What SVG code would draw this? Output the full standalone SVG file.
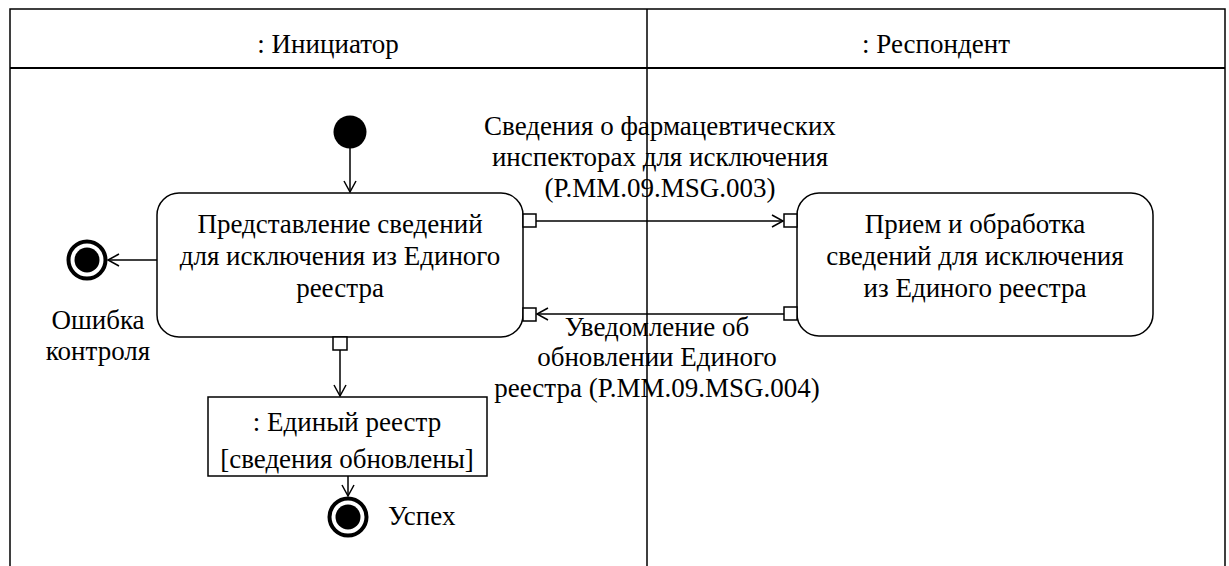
<svg xmlns="http://www.w3.org/2000/svg" width="1229" height="566" viewBox="0 0 1229 566">
<style>
  text { font-family: "Liberation Serif", "Times New Roman", serif; font-size: 27px; fill: #000; }
  .c { text-anchor: middle; }
  .box { fill: #fff; stroke: #000; stroke-width: 1.5; }
  .port { fill: #fff; stroke: #000; stroke-width: 1.5; }
  .lane { fill: none; stroke: #000; stroke-width: 1.5; }
  .edge { fill: none; stroke: #000; stroke-width: 1.5; marker-end: url(#open); }
</style>
<defs>
  <marker id="open" markerUnits="userSpaceOnUse" markerWidth="14" markerHeight="14" viewBox="0 0 14 14" refX="12" refY="7" orient="auto">
    <path d="M1,1 L12,7 L1,13" fill="none" stroke="#000" stroke-width="1.5"/>
  </marker>
</defs>
<rect width="1229" height="566" fill="#fff"/>
<g id="lanes">
  <path class="lane" d="M10,566 V9 H1225 V566 M647,9 V566"/>
  <path d="M10,68 H1225" stroke="#000" stroke-width="2.2" fill="none"/>
  <text class="c" x="328" y="53">: Инициатор</text>
  <text class="c" x="936" y="53">: Респондент</text>
</g>
<g id="connectors">
  <path class="edge" d="M350,148 V192"/>
  <path class="edge" d="M157,260 H108"/>
  <path class="edge" d="M536,221 H783"/>
  <path class="edge" d="M784,314 H537"/>
  <path class="edge" d="M340,350 V396"/>
  <path class="edge" d="M348,476 V496"/>
</g>
<g id="initial">
  <circle cx="350" cy="132" r="16.5" fill="#000"/>
</g>
<g id="error-final">
  <circle cx="87" cy="260" r="18.5" fill="#fff" stroke="#000" stroke-width="4"/>
  <circle cx="87" cy="260" r="12.5" fill="#000"/>
  <text class="c" x="98" y="329">Ошибка</text>
  <text class="c" x="98" y="360">контроля</text>
</g>
<g id="action-submit">
  <rect class="box" x="157" y="193" width="366" height="144" rx="22"/>
  <text class="c" x="340" y="233">Представление сведений</text>
  <text class="c" x="340" y="265">для исключения из Единого</text>
  <text class="c" x="340" y="297">реестра</text>
  <rect class="port" x="523" y="214" width="13" height="13"/>
  <rect class="port" x="523" y="308" width="13" height="13"/>
  <rect class="port" x="333" y="337" width="14" height="13"/>
</g>
<g id="action-receive">
  <rect class="box" x="797" y="193" width="356" height="143" rx="22"/>
  <text class="c" x="975" y="233">Прием и обработка</text>
  <text class="c" x="975" y="265">сведений для исключения</text>
  <text class="c" x="975" y="297">из Единого реестра</text>
  <rect class="port" x="784" y="214" width="13" height="13"/>
  <rect class="port" x="784" y="307" width="13" height="13"/>
</g>
<g id="label-request">
  <text class="c" x="660" y="135">Сведения о фармацевтических</text>
  <text class="c" x="660" y="166">инспекторах для исключения</text>
  <text class="c" x="660" y="197">(P.MM.09.MSG.003)</text>
</g>
<g id="label-response">
  <text class="c" x="657" y="336">Уведомление об</text>
  <text class="c" x="657" y="366">обновлении Единого</text>
  <text class="c" x="657" y="397">реестра (P.MM.09.MSG.004)</text>
</g>
<g id="object-registry">
  <rect x="208" y="397" width="279" height="79" fill="#fff" stroke="#000" stroke-width="1.5"/>
  <text class="c" x="347" y="431">: Единый реестр</text>
  <text class="c" x="347" y="468">[сведения обновлены]</text>
</g>
<g id="final-success">
  <circle cx="348" cy="517" r="18.5" fill="#fff" stroke="#000" stroke-width="4"/>
  <circle cx="348" cy="517" r="12.5" fill="#000"/>
  <text x="388" y="525">Успех</text>
</g>
</svg>
